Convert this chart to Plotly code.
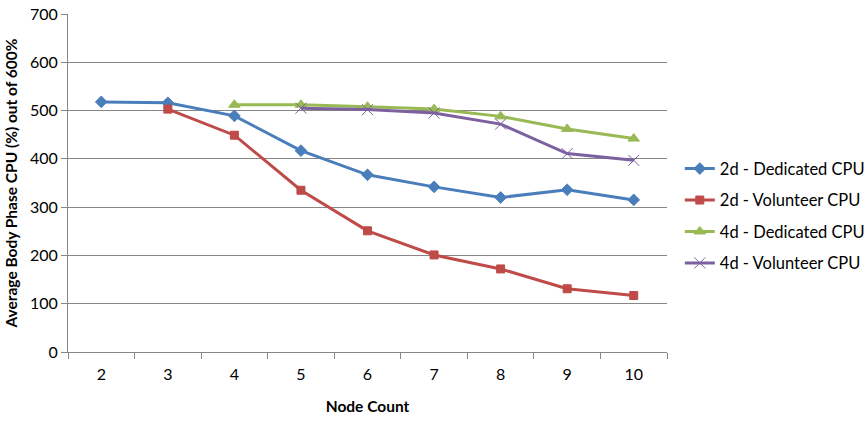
import plotly.graph_objects as go

categories = ["2", "3", "4", "5", "6", "7", "8", "9", "10"]
d2_dedicated = [518, 516, 489, 417, 367, 342, 320, 336, 315]
d2_volunteer = [None, 503, 449, 335, 251, 201, 172, 131, 117]
d4_dedicated = [None, None, 512, 512, 508, 503, 488, 462, 442]
d4_volunteer = [None, None, None, 505, 502, 495, 472, 411, 397]

names = ["2d - Dedicated CPU", "2d - Volunteer CPU", "4d - Dedicated CPU", "4d - Volunteer CPU"]
colors = ["#4A7EBB", "#BE4B48", "#98B954", "#7D60A0"]
symbols = ["diamond", "square", "triangle-up", "x-thin"]
sizes = [9, 8, 10, 11]
series = [d2_dedicated, d2_volunteer, d4_dedicated, d4_volunteer]

fig = go.Figure()
for i, (n, c, s, sz, y) in enumerate(zip(names, colors, symbols, sizes, series)):
    fig.add_trace(go.Scatter(
        x=categories, y=y, name=n, mode="lines+markers", legendgroup=f"g{i}",
        line=dict(color=c, width=3),
        marker=dict(symbol=s, size=sz, color=c, line=dict(color=c, width=1)),
        connectgaps=False,
    ))

font_family = "Lato, 'Open Sans', sans-serif"
fig.update_layout(
    width=866, height=430,
    margin=dict(l=68, r=199, t=14, b=78, autoexpand=False),
    paper_bgcolor="white", plot_bgcolor="white",
    font=dict(family=font_family, size=16, color="black"),
    legend=dict(xref="container", yref="container", x=0.785, y=0.498, xanchor="left", yanchor="middle",
                font=dict(size=16.5), tracegroupgap=7, itemwidth=30),
    showlegend=True,
)
fig.update_xaxes(
    type="category", title=dict(text="<b>Node Count</b>", standoff=18, font=dict(size=15.5)),
    showline=True, linecolor="#868686", linewidth=1,
    ticks="outside", ticklen=6, tickcolor="#868686", tickson="boundaries",
    ticklabelstandoff=8,
    showgrid=False, range=[-0.5, 8.5], automargin=False,
)
fig.update_yaxes(
    title=dict(text="<b>Average Body Phase CPU (%) out of 600%</b>", standoff=8, font=dict(size=15.5)),
    range=[0, 700], dtick=100,
    showline=True, linecolor="#868686", linewidth=1,
    ticks="outside", ticklen=6, tickcolor="#868686",
    showgrid=True, gridcolor="#868686", gridwidth=1, zeroline=False, automargin=False,
)

fig.write_html("out.html")
